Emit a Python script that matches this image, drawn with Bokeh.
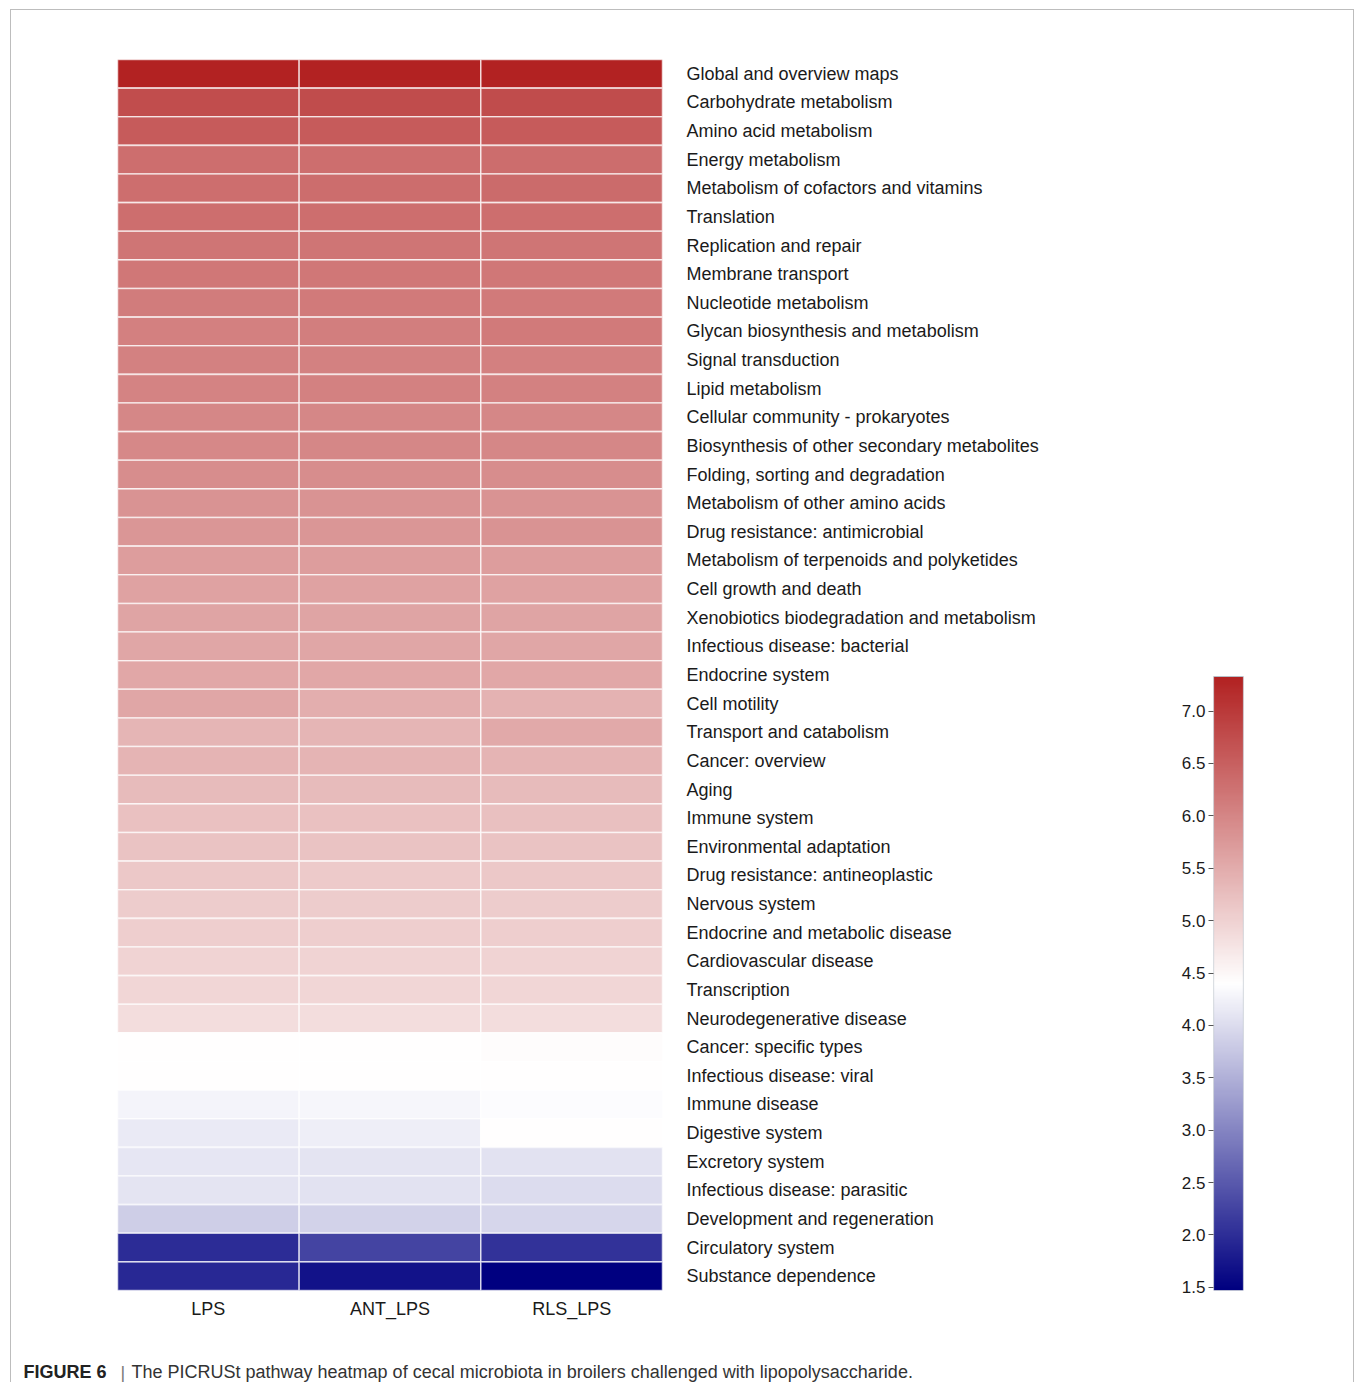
import numpy as np
from bokeh.plotting import figure
from bokeh.models import (LinearColorMapper, FixedTicker, Label, ColumnDataSource,
                          Range1d, PrintfTickFormatter)
from bokeh.layouts import row, column
from bokeh.embed import file_html
from bokeh.resources import INLINE

pathways = [
    "Global and overview maps", "Carbohydrate metabolism", "Amino acid metabolism",
    "Energy metabolism", "Metabolism of cofactors and vitamins", "Translation",
    "Replication and repair", "Membrane transport", "Nucleotide metabolism",
    "Glycan biosynthesis and metabolism", "Signal transduction", "Lipid metabolism",
    "Cellular community - prokaryotes", "Biosynthesis of other secondary metabolites",
    "Folding, sorting and degradation", "Metabolism of other amino acids",
    "Drug resistance: antimicrobial", "Metabolism of terpenoids and polyketides",
    "Cell growth and death", "Xenobiotics biodegradation and metabolism",
    "Infectious disease: bacterial", "Endocrine system", "Cell motility",
    "Transport and catabolism", "Cancer: overview", "Aging", "Immune system",
    "Environmental adaptation", "Drug resistance: antineoplastic", "Nervous system",
    "Endocrine and metabolic disease", "Cardiovascular disease", "Transcription",
    "Neurodegenerative disease", "Cancer: specific types", "Infectious disease: viral",
    "Immune disease", "Digestive system", "Excretory system",
    "Infectious disease: parasitic", "Development and regeneration",
    "Circulatory system", "Substance dependence",
]
groups = ["LPS", "ANT_LPS", "RLS_LPS"]

lps = [7.32, 6.75, 6.57, 6.32, 6.32, 6.30, 6.22, 6.19, 6.13, 6.08, 6.05, 6.04, 5.99,
       5.97, 5.90, 5.82, 5.79, 5.69, 5.62, 5.60, 5.57, 5.55, 5.57, 5.37, 5.40, 5.30,
       5.22, 5.18, 5.11, 5.08, 5.05, 4.99, 4.93, 4.84, 4.42, 4.41, 4.28, 4.15, 4.11,
       4.09, 3.85, 1.99, 1.94]
ant_lps = [7.33, 6.76, 6.57, 6.32, 6.33, 6.30, 6.22, 6.19, 6.14, 6.10, 6.06, 6.05, 5.99,
           5.98, 5.90, 5.83, 5.79, 5.69, 5.62, 5.60, 5.57, 5.55, 5.46, 5.38, 5.40, 5.30,
           5.22, 5.18, 5.10, 5.07, 5.05, 4.98, 4.93, 4.84, 4.41, 4.41, 4.30, 4.20, 4.10,
           4.07, 3.88, 2.26, 1.68]
rls_lps = [7.32, 6.76, 6.57, 6.33, 6.35, 6.31, 6.22, 6.19, 6.16, 6.16, 6.08, 6.07, 6.00,
           5.99, 5.91, 5.83, 5.82, 5.70, 5.63, 5.61, 5.58, 5.56, 5.42, 5.53, 5.39, 5.31,
           5.23, 5.19, 5.11, 5.08, 5.05, 4.99, 4.94, 4.85, 4.44, 4.42, 4.37, 4.40, 4.07,
           4.00, 3.94, 2.05, 1.47]

cb_ticks = [1.5, 2.0, 2.5, 3.0, 3.5, 4.0, 4.5, 5.0, 5.5, 6.0, 6.5, 7.0]
vmin, vmax = 1.47, 7.33

caption_bold = "FIGURE 6"
caption_bar = "|"
caption_text = "The PICRUSt pathway heatmap of cecal microbiota in broilers challenged with lipopolysaccharide."

# navy - white - firebrick diverging palette
navy, white, firebrick = (0, 0, 128), (255, 255, 255), (178, 34, 34)
def mix(c1, c2, t):
    return "#%02x%02x%02x" % tuple(int(round(a + (b - a) * t)) for a, b in zip(c1, c2))
N = 256
palette = []
for i in range(N):
    f = i / (N - 1)
    if f < 0.5:
        palette.append(mix(navy, white, f / 0.5))
    else:
        palette.append(mix(white, firebrick, (f - 0.5) / 0.5))
mapper = LinearColorMapper(palette=palette, low=vmin, high=vmax)

gx, gy, gv = [], [], []
for g, vals in zip(groups, [lps, ant_lps, rls_lps]):
    for pw, v in zip(pathways, vals):
        gx.append(g); gy.append(pw); gv.append(v)
src = ColumnDataSource(dict(group=gx, pathway=gy, val=gv))

FONT = "Liberation Sans"
TOP = 49
FH = 1231
BOTTOM = 46
CAP_H = 46
TOTAL_W = 1342

p = figure(x_range=groups, y_range=list(reversed(pathways)),
           frame_width=545, frame_height=FH, min_border_left=106, min_border_right=438,
           min_border_top=TOP, min_border_bottom=BOTTOM,
           toolbar_location=None, output_backend="svg", y_axis_location="right")
p.rect(x="group", y="pathway", width=1, height=1, source=src,
       fill_color={"field": "val", "transform": mapper},
       line_color="#ffffff", line_alpha=0.65, line_width=1.6)
p.grid.visible = False
p.outline_line_color = None
for ax in (p.xaxis[0], p.yaxis[0]):
    ax.axis_line_color = None
    ax.major_tick_line_color = None
    ax.minor_tick_line_color = None
    ax.major_label_text_font = FONT
    ax.major_label_text_font_size = "18px"
    ax.major_label_text_color = "#1a1a1a"
p.yaxis.major_label_standoff = 18
p.xaxis.major_label_standoff = 2

# colour bar figure: same frame height as the heatmap, bar occupies vmin..vmax
bar_px = 614.0
cb_top = vmin + FH * (vmax - vmin) / bar_px
cb = figure(x_range=Range1d(0, 1), y_range=Range1d(vmin, cb_top),
            frame_width=30, frame_height=FH, min_border_left=113, min_border_right=110,
            min_border_top=TOP, min_border_bottom=BOTTOM,
            toolbar_location=None, output_backend="svg")
grad = np.linspace(vmin, vmax, 600).reshape(-1, 1)
cb.image(image=[grad], x=0, y=vmin, dw=1, dh=vmax - vmin, color_mapper=mapper)
cb.quad(left=0, right=1, bottom=vmin, top=vmax, fill_color=None,
        line_color="#b8c0c8", line_width=1.2)
cb.grid.visible = False
cb.xaxis.visible = False
cb.outline_line_color = None
cb.yaxis.ticker = FixedTicker(ticks=cb_ticks)
cb.yaxis.formatter = PrintfTickFormatter(format="%.1f")
cb.yaxis.axis_line_color = None
cb.yaxis.major_tick_in = 0
cb.yaxis.major_tick_out = 5
cb.yaxis.major_tick_line_color = "#555555"
cb.yaxis.minor_tick_line_color = None
cb.yaxis.major_label_text_font = FONT
cb.yaxis.major_label_text_font_size = "17px"
cb.yaxis.major_label_text_color = "#1a1a1a"
cb.yaxis.major_label_standoff = 3

# caption strip
cap = figure(x_range=Range1d(0, TOTAL_W), y_range=Range1d(0, CAP_H),
             frame_width=TOTAL_W, frame_height=CAP_H,
             min_border_left=0, min_border_right=0, min_border_top=0, min_border_bottom=0,
             toolbar_location=None, output_backend="svg")
cap.axis.visible = False
cap.grid.visible = False
cap.outline_line_color = None
cap.add_layout(Label(x=12, y=11, text=caption_bold, text_font=FONT, text_font_size="18px",
                     text_font_style="bold", text_color="#222222",
                     text_baseline="alphabetic"))
cap.add_layout(Label(x=109, y=10, text=caption_bar, text_font=FONT, text_font_size="18px",
                     text_color="#777777", text_baseline="alphabetic"))
cap.add_layout(Label(x=120, y=11, text=caption_text, text_font=FONT, text_font_size="18px",
                     text_color="#333333", text_baseline="alphabetic"))

layout = column(row(p, cb), cap,
                styles={"margin-left": "10px", "margin-top": "9px",
                        "border-top": "1px solid #bdbdbd",
                        "border-left": "1px solid #bdbdbd",
                        "border-right": "1px solid #bdbdbd"})
open("out.html", "w").write(file_html(layout, INLINE))
